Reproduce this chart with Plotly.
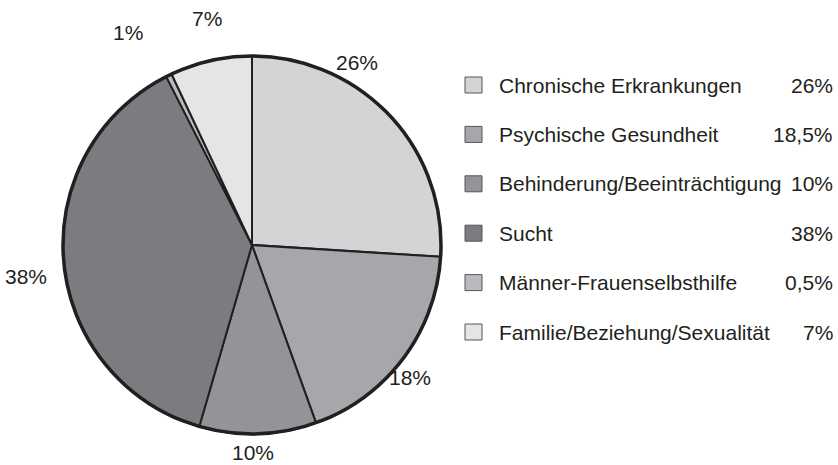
import math
import plotly.graph_objects as go

# ---- data ----
categories = ["Chronische Erkrankungen", "Psychische Gesundheit", "Behinderung/Beeinträchtigung",
              "Sucht", "Männer-Frauenselbsthilfe", "Familie/Beziehung/Sexualität"]
values = [26, 18.5, 10, 38, 0.5, 7]
slice_labels = ["26%", "18%", "10%", "38%", "1%", "7%"]
legend_values = ["26%", "18,5%", "10%", "38%", "0,5%", "7%"]

# ---- style ----
colors = ["#d3d4d6", "#a6a7aa", "#939497", "#7b7c7f", "#b9babd", "#e4e5e7"]
ink = "#231f20"
W, H = 838, 465
CX, CY, R = 252, 245, 189
label_angle_shift = [-17.0, 3.2, 1.5, -2.6, -4.2, 1.3]
label_radius_factor = [1.115, 1.09, 1.10, 1.21, 1.30, 1.22]
FONT = "Liberation Sans, Arial, Helvetica, sans-serif"
FS = 21

def px(x):
    return x / W

def py(y):
    return 1 - y / H

fig = go.Figure()
fig.add_trace(go.Pie(
    values=values, labels=categories, sort=False, direction="clockwise", rotation=0,
    marker=dict(colors=colors, line=dict(color=ink, width=2)),
    textinfo="none", hoverinfo="label+percent", showlegend=False,
    domain=dict(x=[px(CX - R), px(CX + R)], y=[py(CY + R), py(CY - R)]),
))

# thicker outer outline
fig.add_shape(type="circle", xref="paper", yref="paper",
              x0=px(CX - R), x1=px(CX + R), y0=py(CY + R), y1=py(CY - R),
              line=dict(color=ink, width=3.5), fillcolor="rgba(0,0,0,0)")

annotations = []
total = sum(values)
cum = 0
for i, v in enumerate(values):
    mid = (cum + v / 2) / total * 360
    cum += v
    a = math.radians(mid + label_angle_shift[i])
    r = R * label_radius_factor[i]
    x = CX + r * math.sin(a)
    y = CY - r * math.cos(a)
    annotations.append(dict(x=px(x), y=py(y), xref="paper", yref="paper", text=slice_labels[i],
                            showarrow=False, xanchor="center", yanchor="middle",
                            font=dict(family=FONT, size=FS, color=ink)))

# custom legend
row0, step = 85, 49.4
for i, name in enumerate(categories):
    yc = row0 + i * step
    fig.add_shape(type="rect", xref="paper", yref="paper",
                  x0=px(465), x1=px(482), y0=py(yc + 8), y1=py(yc - 8),
                  fillcolor=colors[i], line=dict(color="#555555", width=1))
    annotations.append(dict(x=px(497), y=py(yc), xref="paper", yref="paper", text=name,
                            showarrow=False, xanchor="left", yanchor="middle",
                            font=dict(family=FONT, size=FS, color=ink)))
    annotations.append(dict(x=px(835), y=py(yc), xref="paper", yref="paper", text=legend_values[i],
                            showarrow=False, xanchor="right", yanchor="middle",
                            font=dict(family=FONT, size=FS, color=ink)))

fig.update_layout(width=W, height=H, margin=dict(l=0, r=0, t=0, b=0),
                  paper_bgcolor="white", plot_bgcolor="white",
                  annotations=annotations, showlegend=False)
fig.write_html("out.html", config={"displayModeBar": False},
               post_script="document.body.style.margin='0';document.body.style.overflow='hidden';")
